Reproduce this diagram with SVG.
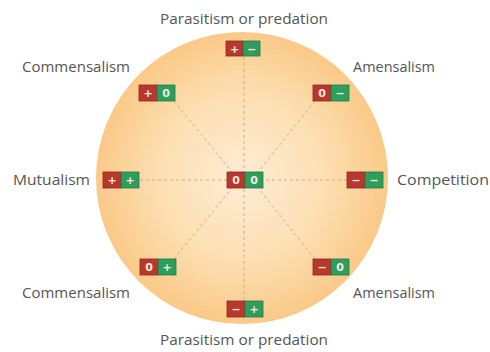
<svg xmlns="http://www.w3.org/2000/svg" width="490" height="352" viewBox="0 0 490 352">
<defs>
<radialGradient id="bg" cx="0.5" cy="0.5" r="0.5">
<stop offset="0" stop-color="#fdecd4"/>
<stop offset="0.55" stop-color="#fde0b4"/>
<stop offset="1" stop-color="#fac987"/>
</radialGradient>
<style>
.lab{font-family:"Open Sans","Lato",sans-serif;font-size:14px;fill:#555;}
.r{fill:#b8382c;stroke:#8e2a22;stroke-width:0.8;}
.g{fill:#2f9e5c;stroke:#23784a;stroke-width:0.8;}
.s{font-family:"DejaVu Sans",sans-serif;font-size:11px;font-weight:bold;fill:#f4e8e0;text-anchor:middle;}
.dl{stroke:#c9a67a;stroke-width:0.9;stroke-dasharray:3 3;fill:none;}
</style>
</defs>
<rect width="490" height="352" fill="#ffffff"/>
<circle cx="242" cy="178" r="146" fill="url(#bg)"/>
<g id="connectors">
<line class="dl" x1="244" y1="57" x2="244" y2="300"/>
<line class="dl" x1="140" y1="180" x2="347" y2="180"/>
<line class="dl" x1="174" y1="101" x2="232" y2="172"/>
<line class="dl" x1="315" y1="101" x2="258" y2="172"/>
<line class="dl" x1="174" y1="259" x2="232" y2="188"/>
<line class="dl" x1="315" y1="259" x2="258" y2="188"/>
</g>
<g id="top">
<rect class="r" x="226" y="41" width="17" height="15"/><rect class="g" x="243" y="41" width="17" height="15"/>
<text class="s" x="234.5" y="52.5">+</text><text class="s" x="251.5" y="52.5">−</text>
<text class="lab" x="160" y="24" textLength="168" lengthAdjust="spacingAndGlyphs">Parasitism or predation</text>
</g>
<g id="commensalism-top">
<rect class="r" x="139" y="85" width="18" height="16"/><rect class="g" x="157" y="85" width="18" height="16"/>
<text class="s" x="148" y="97">+</text><text class="s" x="166" y="97">0</text>
<text class="lab" x="22" y="72" textLength="108" lengthAdjust="spacingAndGlyphs">Commensalism</text>
</g>
<g id="amensalism-top">
<rect class="r" x="313" y="85" width="18" height="16"/><rect class="g" x="331" y="85" width="18" height="16"/>
<text class="s" x="322" y="97">0</text><text class="s" x="340" y="97">−</text>
<text class="lab" x="353" y="72" textLength="82" lengthAdjust="spacingAndGlyphs">Amensalism</text>
</g>
<g id="mutualism">
<rect class="r" x="103" y="172" width="18" height="16"/><rect class="g" x="121" y="172" width="18" height="16"/>
<text class="s" x="112" y="184">+</text><text class="s" x="130" y="184">+</text>
<text class="lab" x="13" y="185" textLength="77" lengthAdjust="spacingAndGlyphs">Mutualism</text>
</g>
<g id="center">
<rect class="r" x="227" y="172" width="18" height="16"/><rect class="g" x="245" y="172" width="18" height="16"/>
<text class="s" x="236" y="184">0</text><text class="s" x="254" y="184">0</text>
</g>
<g id="competition">
<rect class="r" x="347" y="172" width="18" height="16"/><rect class="g" x="365" y="172" width="18" height="16"/>
<text class="s" x="356" y="184">−</text><text class="s" x="374" y="184">−</text>
<text class="lab" x="397" y="185" textLength="92" lengthAdjust="spacingAndGlyphs">Competition</text>
</g>
<g id="commensalism-bottom">
<rect class="r" x="140" y="259" width="18" height="16"/><rect class="g" x="158" y="259" width="18" height="16"/>
<text class="s" x="149" y="271">0</text><text class="s" x="167" y="271">+</text>
<text class="lab" x="22" y="298" textLength="108" lengthAdjust="spacingAndGlyphs">Commensalism</text>
</g>
<g id="amensalism-bottom">
<rect class="r" x="313" y="259" width="18" height="16"/><rect class="g" x="331" y="259" width="18" height="16"/>
<text class="s" x="322" y="271">−</text><text class="s" x="340" y="271">0</text>
<text class="lab" x="353" y="298" textLength="82" lengthAdjust="spacingAndGlyphs">Amensalism</text>
</g>
<g id="bottom">
<rect class="r" x="227" y="301" width="18" height="16"/><rect class="g" x="245" y="301" width="18" height="16"/>
<text class="s" x="236" y="313">−</text><text class="s" x="254" y="313">+</text>
<text class="lab" x="160" y="345" textLength="168" lengthAdjust="spacingAndGlyphs">Parasitism or predation</text>
</g>
</svg>
